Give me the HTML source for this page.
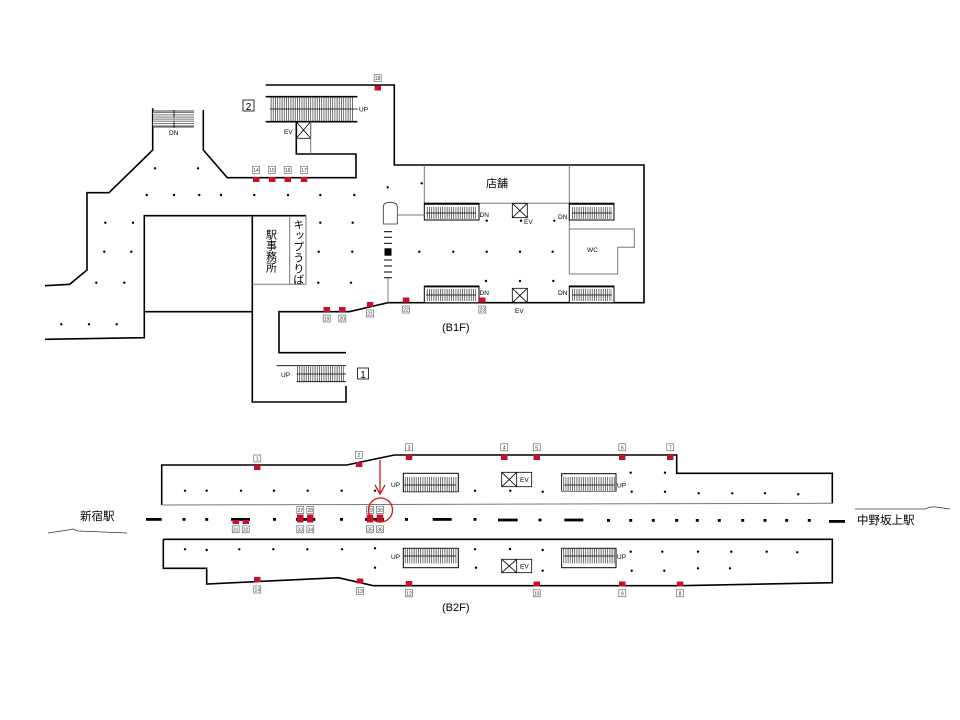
<!DOCTYPE html>
<html><head><meta charset="utf-8">
<style>
html,body{margin:0;padding:0;background:#fff;}
svg{display:block;font-family:"Liberation Sans","Noto Sans CJK JP",sans-serif;}
.w{fill:none;stroke:#000;stroke-width:1.6}
.t{fill:none;stroke:#000;stroke-width:0.8}
.g{fill:none;stroke:#777;stroke-width:1}
.r{fill:#c8102e}
.lb{fill:#fff;stroke:#555;stroke-width:0.6}
.n{font-size:5px;fill:#333;text-anchor:middle}
.s{font-size:6.5px;fill:#000}
</style></head><body>
<svg width="960" height="720" viewBox="0 0 960 720" xmlns="http://www.w3.org/2000/svg">
<defs>
<pattern id="st" width="2.2" height="10" patternUnits="userSpaceOnUse">
<rect width="2.2" height="10" fill="#fff"/><line x1="0.5" y1="0" x2="0.5" y2="10" stroke="#333" stroke-width="0.7"/>
</pattern>
<pattern id="sth" width="10" height="2.2" patternUnits="userSpaceOnUse">
<rect width="10" height="2.2" fill="#fff"/><line x1="0" y1="0.5" x2="10" y2="0.5" stroke="#333" stroke-width="0.7"/>
</pattern>
</defs>

<!-- ===== B1F ===== -->
<polyline class="w" points="265.7,85 394.3,85 394.3,165 644,165 644,302.7 388,302.7 349.3,311.7 279,311.7 279,352.7 346,352.7"/>
<polyline class="w" points="252.3,311.7 252.3,402 346,402 346,386"/>
<line class="t" x1="276.7" y1="365.7" x2="346" y2="365.7"/>
<polyline class="w" points="45,285.7 69.7,284.3 87,270 87,192.7 109,192.7 152.7,150 152.7,108.3"/>
<polyline class="w" points="203.3,110 203.3,150 227.3,177.7 356,177.7 356,154 296.3,154 296.3,121.7"/>
<polyline class="w" points="45,339.3 144.3,337.7 144.3,215.7 306,215.7"/>
<line class="w" x1="144.3" y1="311.7" x2="252.3" y2="311.7"/>
<line class="w" x1="252.3" y1="215.7" x2="252.3" y2="311.7"/>
<polyline class="g" points="252.3,284.3 306,284.3 306,215.7"/>
<line class="g" x1="289.7" y1="215.7" x2="289.7" y2="284.3"/>
<text x="297.7" y="219" style="font-size:11px;writing-mode:vertical-rl">キップうりば</text>
<text x="270.5" y="229" style="font-size:11px;writing-mode:vertical-rl">駅事務所</text>

<rect x="153" y="111" width="41" height="16" fill="url(#sth)"/>
<line class="t" x1="153" y1="111" x2="194" y2="111"/>
<line class="t" x1="153" y1="127" x2="194" y2="127"/>
<line class="t" x1="174" y1="110" x2="174" y2="128"/>
<rect x="153" y="117" width="41" height="5" fill="#bbb" opacity="0.6"/>
<text class="s" x="169" y="135">DN</text>

<rect x="270" y="97" width="84" height="24.7" fill="url(#st)"/>
<line class="w" x1="265.7" y1="96.7" x2="357.3" y2="96.7"/>
<line class="w" x1="265.7" y1="121.7" x2="357.3" y2="121.7"/>
<line class="t" x1="270" y1="109" x2="358" y2="109"/>
<text class="s" x="359" y="111.5">UP</text>
<rect x="243" y="100" width="11" height="11" class="t"/>
<text x="248.5" y="110" style="font-size:10px;text-anchor:middle">2</text>
<rect x="296.3" y="121.7" width="14.4" height="16.6" class="t"/>
<line class="t" x1="296.3" y1="121.7" x2="310.7" y2="138.3"/><line class="t" x1="310.7" y1="121.7" x2="296.3" y2="138.3"/>
<line class="g" x1="310.7" y1="121.7" x2="310.7" y2="154"/>
<text class="s" x="284" y="134">EV</text>

<rect x="297" y="366" width="48" height="15.7" fill="url(#st)"/>
<line class="t" x1="296.7" y1="381.7" x2="346" y2="381.7"/>
<line class="t" x1="296.7" y1="374" x2="346" y2="374"/>
<text class="s" x="281" y="377">UP</text>
<rect x="357.5" y="368" width="11" height="11" class="t"/>
<text x="363" y="378" style="font-size:10px;text-anchor:middle">1</text>

<line class="g" x1="424.3" y1="165" x2="424.3" y2="203.3"/>
<line class="g" x1="569.3" y1="165" x2="569.3" y2="274"/>
<line class="g" x1="424.3" y1="203.3" x2="569.3" y2="203.3"/>
<text x="497" y="187" style="font-size:11px;text-anchor:middle">店舗</text>
<polyline class="g" points="569.3,229 634.3,229 634.3,247.3 617.7,247.3 617.7,274 569.3,274"/>
<text class="s" x="587" y="252">WC</text>

<g>
<rect x="424.3" y="203.3" width="54.7" height="16.7" fill="#fff" stroke="#000" stroke-width="1"/>
<line x1="424.3" y1="203.8" x2="479" y2="203.8" stroke="#000" stroke-width="1.8"/>
<rect x="426" y="207" width="50" height="12" fill="url(#st)"/>
<line class="t" x1="426" y1="213" x2="476" y2="213"/>
<text class="s" x="479.5" y="217">DN</text>
<rect x="569.3" y="203.3" width="44.7" height="16.7" fill="#fff" stroke="#000" stroke-width="1"/>
<line x1="569.3" y1="203.8" x2="614" y2="203.8" stroke="#000" stroke-width="1.8"/>
<rect x="572" y="207" width="40" height="12" fill="url(#st)"/>
<line class="t" x1="572" y1="213" x2="612" y2="213"/>
<text class="s" x="558" y="219">DN</text>
<rect x="424.3" y="286" width="54.7" height="16.7" fill="#fff" stroke="#000" stroke-width="1"/>
<line x1="424.3" y1="286.5" x2="479" y2="286.5" stroke="#000" stroke-width="1.8"/>
<rect x="426" y="289" width="50" height="12" fill="url(#st)"/>
<line class="t" x1="426" y1="295" x2="476" y2="295"/>
<text class="s" x="479.5" y="295">DN</text>
<rect x="569.3" y="286" width="44.7" height="16.7" fill="#fff" stroke="#000" stroke-width="1"/>
<line x1="569.3" y1="286.5" x2="614" y2="286.5" stroke="#000" stroke-width="1.8"/>
<rect x="572" y="289" width="40" height="12" fill="url(#st)"/>
<line class="t" x1="572" y1="295" x2="612" y2="295"/>
<text class="s" x="558" y="295">DN</text>
</g>
<rect x="512.3" y="203.3" width="15" height="14.4" class="t"/>
<line class="t" x1="512.3" y1="203.3" x2="527.3" y2="217.7"/><line class="t" x1="527.3" y1="203.3" x2="512.3" y2="217.7"/>
<text class="s" x="524" y="224">EV</text>
<rect x="512.3" y="288.3" width="15" height="14.4" class="t"/>
<line class="t" x1="512.3" y1="288.3" x2="527.3" y2="302.7"/><line class="t" x1="527.3" y1="288.3" x2="512.3" y2="302.7"/>
<text class="s" x="515" y="313">EV</text>

<path d="M383.3,224 L383.3,207 Q383.3,202.3 390.3,202.3 Q397.3,202.3 397.3,207 L397.3,224 Z" fill="#fff" stroke="#333" stroke-width="0.8"/>
<line class="g" x1="397.3" y1="215" x2="424.3" y2="215"/>
<g stroke="#000" stroke-width="1">
<line x1="384" y1="231.7" x2="392" y2="231.7"/><line x1="384" y1="237.3" x2="392" y2="237.3"/><line x1="384" y1="243.3" x2="392" y2="243.3"/>
<line x1="384" y1="260" x2="392" y2="260"/><line x1="384" y1="266" x2="392" y2="266"/><line x1="384" y1="272" x2="392" y2="272"/><line x1="384" y1="277.7" x2="392" y2="277.7"/>
</g>
<rect x="384.5" y="248.3" width="7" height="7.4" fill="#000"/>
<line class="g" x1="388" y1="277.7" x2="388" y2="302.7"/>

<g fill="#000">
<circle cx="155" cy="168.3" r="1.2"/><circle cx="198" cy="168.3" r="1.2"/>
<circle cx="146.7" cy="195" r="1.2"/><circle cx="174" cy="195" r="1.2"/><circle cx="199.3" cy="195" r="1.2"/><circle cx="221" cy="195" r="1.2"/><circle cx="254.3" cy="195" r="1.2"/><circle cx="288" cy="195" r="1.2"/><circle cx="320.3" cy="195" r="1.2"/><circle cx="354.3" cy="195" r="1.2"/>
<circle cx="387.7" cy="187.3" r="1.2"/><circle cx="421.7" cy="183.3" r="1.2"/>
<circle cx="105.3" cy="222.7" r="1.2"/><circle cx="133" cy="222.7" r="1.2"/><circle cx="320.3" cy="222.7" r="1.2"/><circle cx="352.7" cy="222.7" r="1.2"/>
<circle cx="104.3" cy="251.7" r="1.2"/><circle cx="131.3" cy="251.7" r="1.2"/><circle cx="318.7" cy="251.7" r="1.2"/><circle cx="352.3" cy="251.7" r="1.2"/>
<circle cx="419.3" cy="251.7" r="1.2"/><circle cx="453.3" cy="251.7" r="1.2"/><circle cx="486.7" cy="251.7" r="1.2"/><circle cx="520" cy="251.7" r="1.2"/><circle cx="552.7" cy="251.7" r="1.2"/>
<circle cx="96.3" cy="282.7" r="1.2"/><circle cx="124.3" cy="282.7" r="1.2"/><circle cx="318.3" cy="282.7" r="1.2"/><circle cx="351" cy="282.7" r="1.2"/>
<circle cx="61.3" cy="324.3" r="1.2"/><circle cx="89" cy="324.3" r="1.2"/><circle cx="116.7" cy="324.3" r="1.2"/>
<circle cx="486.7" cy="220.7" r="1.2"/><circle cx="521" cy="220.7" r="1.2"/><circle cx="554.3" cy="220.7" r="1.2"/>
<circle cx="486" cy="281" r="1.2"/><circle cx="520" cy="281" r="1.2"/><circle cx="553.3" cy="281" r="1.2"/>
</g>

<g>
<rect class="r" x="253" y="177" width="6.5" height="5"/><rect class="r" x="269" y="177" width="6.5" height="5"/><rect class="r" x="284.5" y="177" width="6.5" height="5"/><rect class="r" x="300.8" y="177" width="6.5" height="5"/>
<rect class="lb" x="252.5" y="166.5" width="7" height="7"/><text class="n" x="256" y="172">14</text>
<rect class="lb" x="268.5" y="166.5" width="7" height="7"/><text class="n" x="272" y="172">15</text>
<rect class="lb" x="284.2" y="166.5" width="7" height="7"/><text class="n" x="287.7" y="172">16</text>
<rect class="lb" x="300.5" y="166.5" width="7" height="7"/><text class="n" x="304" y="172">17</text>
<rect class="r" x="374.5" y="85.5" width="6.5" height="5"/><rect class="lb" x="374.2" y="74.5" width="7" height="7"/><text class="n" x="377.7" y="80">18</text>
<rect class="r" x="323.5" y="307" width="6.5" height="5"/><rect class="lb" x="323.2" y="315" width="7" height="7"/><text class="n" x="326.7" y="320.5">19</text>
<rect class="r" x="339" y="307" width="6.5" height="5"/><rect class="lb" x="338.8" y="315" width="7" height="7"/><text class="n" x="342.3" y="320.5">20</text>
<rect class="r" x="366.8" y="302" width="6.5" height="5"/><rect class="lb" x="366.5" y="310" width="7" height="7"/><text class="n" x="370" y="315.5">21</text>
<rect class="r" x="402.8" y="297.5" width="6.5" height="5"/><rect class="lb" x="402.5" y="306" width="7" height="7"/><text class="n" x="406" y="311.5">22</text>
<rect class="r" x="479" y="297.5" width="6.5" height="5"/><rect class="lb" x="478.8" y="306" width="7" height="7"/><text class="n" x="482.3" y="311.5">23</text>
</g>
<text x="442" y="331" style="font-size:11px">(B1F)</text>

<!-- ===== B2F ===== -->
<polyline class="w" points="161.7,505 161.7,465 346.7,465 394.3,455 676.7,455 676.7,473.3 832.3,473.3 832.3,503.3"/>
<line class="g" x1="161.7" y1="505" x2="832.3" y2="503.3"/>
<polyline class="w" points="163.3,539.3 832.3,539.3 832.3,582.7 680,585.7 373.3,585.7 338.3,577.7 206.7,584 206.7,568.3 163.3,568.3 163.3,539.3"/>

<g fill="#000">
<rect x="146" y="518" width="15.7" height="2.8"/>
<rect x="182.5" y="518" width="3" height="2.8"/><rect x="205.2" y="518" width="3" height="2.8"/><rect x="273" y="518" width="3" height="2.8"/><rect x="340" y="518" width="3" height="2.8"/><rect x="405" y="518" width="3" height="2.8"/><rect x="473.5" y="518" width="3" height="2.8"/>
<rect x="231" y="518" width="19" height="2.8"/><rect x="296" y="518" width="19.3" height="2.8"/><rect x="365" y="518" width="19" height="2.8"/><rect x="432.7" y="518" width="19" height="2.8"/>
<rect x="498" y="518.6" width="19.7" height="2.8"/><rect x="538.5" y="518.6" width="3" height="2.8"/><rect x="564.3" y="518.6" width="19" height="2.8"/>
<rect x="607" y="519" width="3" height="2.8"/><rect x="629.2" y="519" width="3" height="2.8"/><rect x="651.8" y="519" width="3" height="2.8"/><rect x="675.2" y="519" width="3" height="2.8"/><rect x="695.8" y="519" width="3" height="2.8"/><rect x="717.8" y="519" width="3" height="2.8"/><rect x="741.2" y="519" width="3" height="2.8"/><rect x="763.5" y="519" width="3" height="2.8"/><rect x="785.2" y="519" width="3" height="2.8"/><rect x="807.8" y="519" width="3" height="2.8"/>
<rect x="829" y="520" width="16" height="2.8"/>
</g>

<text x="80" y="520" style="font-size:11.5px">新宿駅</text>
<polyline fill="none" stroke="#333" stroke-width="0.8" points="48,533 68,530 73,529 78,531 127,533"/>
<text x="857" y="524" style="font-size:11.5px">中野坂上駅</text>
<polyline fill="none" stroke="#333" stroke-width="0.8" points="855,509 925,509 930,507 936,507 950,509"/>

<!-- upper platform escalators -->
<rect x="403.3" y="473.3" width="55" height="18.4" fill="#fff" stroke="#000" stroke-width="1"/>
<rect x="404" y="477" width="54" height="14.5" fill="url(#st)"/>
<line class="t" x1="404" y1="485" x2="456" y2="485"/>
<text class="s" x="391" y="487">UP</text>
<rect x="561.7" y="473.7" width="54.3" height="17.3" fill="#fff" stroke="#000" stroke-width="1"/>
<rect x="562" y="477" width="53.5" height="14" fill="url(#st)"/>
<line class="t" x1="564" y1="485" x2="614" y2="485"/>
<text class="s" x="617" y="487.5">UP</text>
<rect x="501.7" y="472.3" width="30" height="14.4" class="t"/><line class="t" x1="516.7" y1="472.3" x2="516.7" y2="486.7"/>
<line class="t" x1="501.7" y1="472.3" x2="516.7" y2="486.7"/><line class="t" x1="516.7" y1="472.3" x2="501.7" y2="486.7"/>
<text class="s" x="520" y="482">EV</text>

<!-- lower platform escalators -->
<rect x="403.3" y="548.3" width="55" height="19.4" fill="#fff" stroke="#000" stroke-width="1"/>
<rect x="404" y="548.8" width="54" height="14.5" fill="url(#st)"/>
<line class="t" x1="404" y1="556" x2="456" y2="556"/>
<text class="s" x="391" y="559">UP</text>
<rect x="561.7" y="548.3" width="54.3" height="19.4" fill="#fff" stroke="#000" stroke-width="1"/>
<rect x="562" y="548.8" width="53.5" height="14.5" fill="url(#st)"/>
<line class="t" x1="564" y1="556" x2="614" y2="556"/>
<text class="s" x="617" y="559">UP</text>
<rect x="501.7" y="559.3" width="30" height="13.4" class="t"/><line class="t" x1="516.7" y1="559.3" x2="516.7" y2="572.7"/>
<line class="t" x1="501.7" y1="559.3" x2="516.7" y2="572.7"/><line class="t" x1="516.7" y1="559.3" x2="501.7" y2="572.7"/>
<text class="s" x="520" y="568.5">EV</text>

<g fill="#000">
<circle cx="185" cy="490.7" r="1.2"/><circle cx="206.7" cy="490.7" r="1.2"/><circle cx="241" cy="490.7" r="1.2"/><circle cx="274" cy="490.7" r="1.2"/><circle cx="307.7" cy="490.7" r="1.2"/><circle cx="341.7" cy="490.7" r="1.2"/><circle cx="375" cy="490.7" r="1.2"/><circle cx="475" cy="490.7" r="1.2"/>
<circle cx="510.3" cy="490.7" r="1.2"/><circle cx="542.7" cy="491.7" r="1.2"/><circle cx="631.7" cy="491.7" r="1.2"/><circle cx="665" cy="491.7" r="1.2"/><circle cx="698.7" cy="493.3" r="1.2"/><circle cx="732.3" cy="493.3" r="1.2"/><circle cx="765" cy="493.3" r="1.2"/><circle cx="798.3" cy="494.3" r="1.2"/>
<circle cx="630.7" cy="472.7" r="1.2"/><circle cx="665" cy="472.7" r="1.2"/>
<circle cx="185" cy="549.3" r="1.2"/><circle cx="206.7" cy="550" r="1.2"/><circle cx="239.3" cy="549.3" r="1.2"/><circle cx="273.3" cy="549.3" r="1.2"/><circle cx="307.3" cy="549.3" r="1.2"/><circle cx="342" cy="549.3" r="1.2"/><circle cx="375" cy="548.3" r="1.2"/><circle cx="475" cy="549.3" r="1.2"/>
<circle cx="375" cy="567.7" r="1.2"/><circle cx="476" cy="567.7" r="1.2"/>
<circle cx="510" cy="549" r="1.2"/><circle cx="542.7" cy="550" r="1.2"/>
<circle cx="630.7" cy="551.7" r="1.2"/><circle cx="662.3" cy="551.7" r="1.2"/><circle cx="698" cy="551.7" r="1.2"/><circle cx="731.3" cy="551.7" r="1.2"/><circle cx="766.7" cy="551.7" r="1.2"/><circle cx="797.3" cy="552.3" r="1.2"/>
<circle cx="542.7" cy="570.7" r="1.2"/><circle cx="631.7" cy="570.7" r="1.2"/><circle cx="664.3" cy="570.7" r="1.2"/><circle cx="698" cy="568.3" r="1.2"/><circle cx="730" cy="568.3" r="1.2"/>
</g>

<g>
<rect class="r" x="254" y="465" width="6.5" height="5"/><rect class="lb" x="253.8" y="455" width="7" height="7"/><text class="n" x="257.3" y="460.5">1</text>
<rect class="r" x="355.8" y="462" width="6.5" height="5"/><rect class="lb" x="355.3" y="451.5" width="7" height="7"/><text class="n" x="358.8" y="457">2</text>
<rect class="r" x="405.8" y="455" width="6.5" height="5"/><rect class="lb" x="405.5" y="443.8" width="7" height="7"/><text class="n" x="409" y="449.3">3</text>
<rect class="r" x="501" y="455" width="6.5" height="5"/><rect class="lb" x="500.8" y="443.8" width="7" height="7"/><text class="n" x="504.3" y="449.3">4</text>
<rect class="r" x="533.5" y="455" width="6.5" height="5"/><rect class="lb" x="533.2" y="443.8" width="7" height="7"/><text class="n" x="536.7" y="449.3">5</text>
<rect class="r" x="619" y="455" width="6.5" height="5"/><rect class="lb" x="618.8" y="443.8" width="7" height="7"/><text class="n" x="622.3" y="449.3">6</text>
<rect class="r" x="667" y="455" width="6.5" height="5"/><rect class="lb" x="666.8" y="443.8" width="7" height="7"/><text class="n" x="670.3" y="449.3">7</text>
<rect class="r" x="254" y="577" width="6.5" height="5"/><rect class="lb" x="253.8" y="586" width="7" height="7"/><text class="n" x="257.3" y="591.5">14</text>
<rect class="r" x="356.8" y="578.5" width="6.5" height="5"/><rect class="lb" x="356.5" y="587.5" width="7" height="7"/><text class="n" x="360" y="593">13</text>
<rect class="r" x="405.8" y="581" width="6.5" height="5"/><rect class="lb" x="405.5" y="589.8" width="7" height="7"/><text class="n" x="409" y="595.3">12</text>
<rect class="r" x="533.5" y="581.5" width="6.5" height="5"/><rect class="lb" x="533.2" y="589.8" width="7" height="7"/><text class="n" x="536.7" y="595.3">10</text>
<rect class="r" x="619" y="581.5" width="6.5" height="5"/><rect class="lb" x="618.8" y="589.8" width="7" height="7"/><text class="n" x="622.3" y="595.3">9</text>
<rect class="r" x="676.8" y="581.5" width="6.5" height="5"/><rect class="lb" x="676.5" y="589.8" width="7" height="7"/><text class="n" x="680" y="595.3">8</text>
<rect class="r" x="232.5" y="520" width="6.5" height="4"/><rect class="r" x="242.5" y="520" width="6.5" height="4"/>
<rect class="lb" x="232.2" y="525.8" width="7" height="7"/><text class="n" x="235.7" y="531.3">31</text>
<rect class="lb" x="242.2" y="525.8" width="7" height="7"/><text class="n" x="245.7" y="531.3">32</text>
<rect class="r" x="297" y="514.5" width="6.5" height="8"/><rect class="r" x="307" y="514.5" width="6.5" height="8"/>
<rect class="lb" x="296.8" y="506.5" width="7" height="7"/><text class="n" x="300.3" y="512">27</text>
<rect class="lb" x="306.8" y="506.5" width="7" height="7"/><text class="n" x="310.3" y="512">28</text>
<rect class="lb" x="296.8" y="525.8" width="7" height="7"/><text class="n" x="300.3" y="531.3">33</text>
<rect class="lb" x="306.8" y="525.8" width="7" height="7"/><text class="n" x="310.3" y="531.3">34</text>
<rect class="r" x="366.7" y="514.5" width="6.5" height="8"/><rect class="r" x="376.7" y="514.5" width="6.5" height="8"/>
<rect class="lb" x="366.5" y="506.5" width="7" height="7"/><text class="n" x="370" y="512">29</text>
<rect class="lb" x="376.5" y="506.5" width="7" height="7"/><text class="n" x="380" y="512">30</text>
<rect class="lb" x="366.5" y="525.8" width="7" height="7"/><text class="n" x="370" y="531.3">35</text>
<rect class="lb" x="376.5" y="525.8" width="7" height="7"/><text class="n" x="380" y="531.3">36</text>
</g>
<circle cx="380.5" cy="510" r="12" fill="none" stroke="#d01818" stroke-width="1.3"/>
<line x1="380" y1="460" x2="380" y2="493" stroke="#d01818" stroke-width="1.3"/>
<polyline points="375,485 380,494 385,485" fill="none" stroke="#d01818" stroke-width="1.3"/>

<text x="442" y="611" style="font-size:11px">(B2F)</text>
</svg>
</body></html>
